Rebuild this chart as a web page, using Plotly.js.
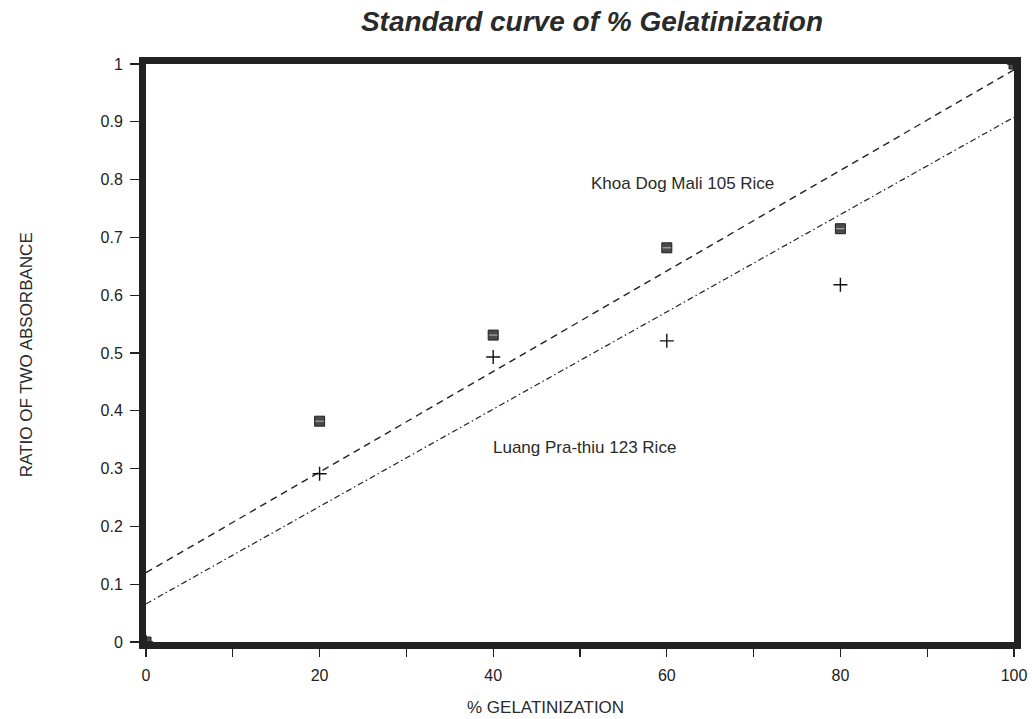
<!DOCTYPE html>
<html>
<head>
<meta charset="utf-8">
<script src="https://cdn.plot.ly/plotly-3.0.1.min.js"></script>
<style>html,body{margin:0;padding:0;background:#fff;}#chart{width:1032px;height:719px;}</style>
</head>
<body>
<div id="chart"></div>
<script>
// Data
var gelatinization = [0, 20, 40, 60, 80, 100];
var khoaDogMali = [0, 0.382, 0.531, 0.682, 0.715, 1.0];
var luangPrathiu = [0, 0.291, 0.493, 0.521, 0.618, 1.0];
var fitX = [0, 100];
var fitKhoa = [0.12, 0.99];
var fitLuang = [0.066, 0.908];
var xTickVals = [0, 10, 20, 30, 40, 50, 60, 70, 80, 90, 100];
var xTickText = ['0', '', '20', '', '40', '', '60', '', '80', '', '100'];
var yTickVals = [0, 0.1, 0.2, 0.3, 0.4, 0.5, 0.6, 0.7, 0.8, 0.9, 1];
var yTickText = ['0', '0.1', '0.2', '0.3', '0.4', '0.5', '0.6', '0.7', '0.8', '0.9', '1'];

var traces = [
  {x: fitX, y: fitKhoa, mode: 'lines', line: {color: '#222', width: 1.4, dash: '7px,5px'}, hoverinfo: 'skip', cliponaxis: false},
  {x: fitX, y: fitLuang, mode: 'lines', line: {color: '#222', width: 1.2, dash: '6px,3px,1.5px,3px'}, hoverinfo: 'skip', cliponaxis: false},
  {x: gelatinization, y: khoaDogMali, mode: 'markers', name: 'Khoa Dog Mali 105 Rice',
   marker: {symbol: 'square', size: 10, color: '#4a4a4a', line: {color: '#222', width: 1}}, cliponaxis: false},
  {x: gelatinization, y: khoaDogMali, mode: 'markers', hoverinfo: 'skip',
   marker: {symbol: 'line-ew-open', size: 6, color: '#bbb', line: {color: '#bbb', width: 1}}, cliponaxis: false},
  {x: gelatinization, y: luangPrathiu, mode: 'markers', name: 'Luang Pra-thiu 123 Rice',
   marker: {symbol: 'cross-thin-open', size: 10, color: '#111', line: {color: '#111', width: 1.4}}, cliponaxis: false}
];

var layout = {
  width: 1032, height: 719,
  margin: {l: 146, r: 18, t: 64, b: 77},
  paper_bgcolor: '#fff', plot_bgcolor: '#fff',
  showlegend: false,
  font: {family: 'Liberation Sans, Arial, sans-serif', color: '#222'},
  title: {text: '<b><i>Standard curve of % Gelatinization</i></b>', x: 0.5736, xanchor: 'center', y: 0.97, yanchor: 'middle',
          font: {size: 28, color: '#2a2a2a', family: 'Liberation Sans, Arial, sans-serif'}},
  xaxis: {range: [0, 100], tickvals: xTickVals, ticktext: xTickText, ticks: 'outside', ticklen: 8, tickwidth: 1.2, tickcolor: '#222',
          ticklabelstandoff: 5,
          showgrid: false, zeroline: false, showline: true, linewidth: 7, linecolor: '#222', mirror: true,
          tickfont: {size: 16}},
  yaxis: {range: [0, 1], tickvals: yTickVals, ticktext: yTickText, ticks: 'outside', ticklen: 9, tickwidth: 1.2, tickcolor: '#222',
          ticklabelstandoff: 4,
          showgrid: false, zeroline: false, showline: true, linewidth: 7, linecolor: '#222', mirror: true,
          tickfont: {size: 16}},
  annotations: [
    {x: 61.8, y: 0.794, xref: 'x', yref: 'y', text: 'Khoa Dog Mali 105 Rice', showarrow: false, font: {size: 17, color: '#2a2a2a'}},
    {x: 50.5, y: 0.337, xref: 'x', yref: 'y', text: 'Luang Pra-thiu 123 Rice', showarrow: false, font: {size: 17, color: '#2a2a2a'}},
    {x: 0.4597, y: -0.114, xref: 'paper', yref: 'paper', xanchor: 'center', yanchor: 'middle', text: '% GELATINIZATION', showarrow: false, font: {size: 17, color: '#2a2a2a'}},
    {x: -0.138, y: 0.4965, xref: 'paper', yref: 'paper', xanchor: 'center', yanchor: 'middle', text: 'RATIO OF TWO ABSORBANCE', textangle: -90, showarrow: false, font: {size: 17, color: '#2a2a2a'}}
  ]
};

Plotly.newPlot('chart', traces, layout, {displayModeBar: false, staticPlot: true});
</script>
</body>
</html>
